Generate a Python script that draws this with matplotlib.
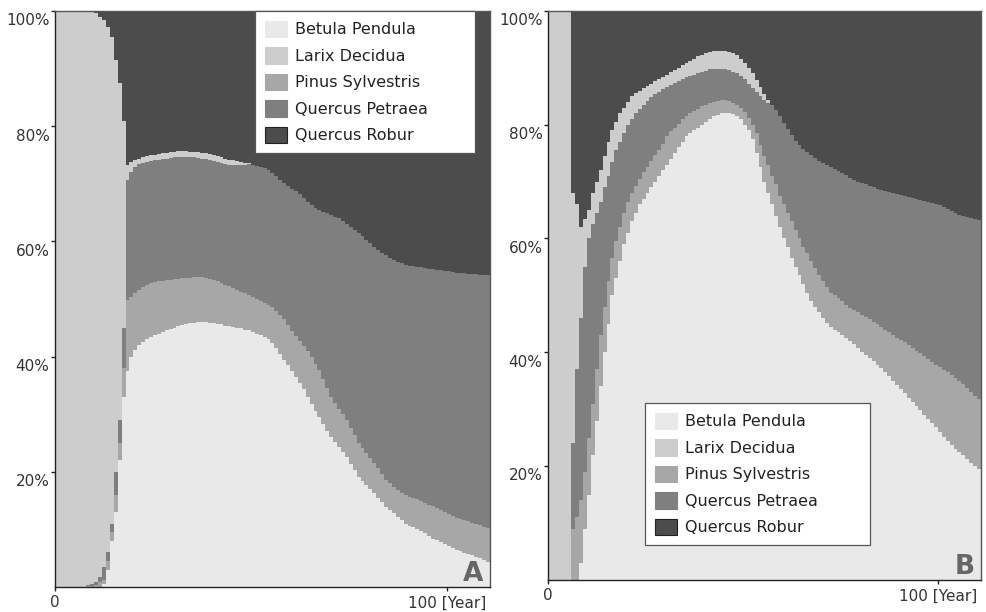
import numpy as np
import matplotlib
matplotlib.use("Agg")
import matplotlib.pyplot as plt
import matplotlib.transforms as mtransforms
from matplotlib.patches import Patch

# ---------------- data (percent) ----------------
years = np.arange(111)

legend_order = ["Betula Pendula", "Larix Decidua", "Pinus Sylvestris",
                "Quercus Petraea", "Quercus Robur"]
stack_order = ["Betula Pendula", "Pinus Sylvestris", "Quercus Petraea",
               "Larix Decidua", "Quercus Robur"]
colors = {"Betula Pendula": "#e9e9e9", "Larix Decidua": "#cdcdcd",
          "Pinus Sylvestris": "#a7a7a7", "Quercus Petraea": "#7f7f7f",
          "Quercus Robur": "#4c4c4c"}

# Panel A: cumulative share (%) at the top of each band (stack order)
a_betula_top = [0, 0, 0, 0, 0, 0, 0, 0, 0, 0, 0, 0, 0.5, 3.0, 8.0, 13.0, 22.0, 33.0,
    37.5, 40.0, 41.1, 42.0, 42.6, 43.0, 43.4, 43.7, 44.0, 44.3, 44.6, 44.8,
    45.0, 45.3, 45.5, 45.7, 45.8, 45.9, 46.0, 46.0, 46.0, 45.9,
    45.8, 45.7, 45.6, 45.4, 45.3, 45.1, 45.0, 44.9, 44.7, 44.6,
    44.3, 44.0, 43.7, 43.4, 43.0, 42.4, 41.5, 40.5, 39.5, 38.5,
    37.5, 36.5, 35.5, 34.3, 33.0, 31.8, 30.6, 29.5, 28.3, 27.1,
    26.0, 25.2, 24.3, 23.5, 22.6, 21.4, 20.3, 19.1, 18.4, 17.7,
    17.0, 16.3, 15.5, 14.7, 13.9, 13.3, 12.8, 12.2, 11.6, 11.0,
    10.6, 10.4, 10.0, 9.7, 9.4, 8.9, 8.4, 8.1, 7.8, 7.5,
    7.1, 6.8, 6.5, 6.2, 5.9, 5.7, 5.5, 5.2, 5.0, 4.7,
    4.3]
a_pinus_top = [0, 0, 0, 0, 0, 0, 0, 0, 0.1, 0.2, 0.4, 0.8, 1.2, 4.5, 9.5, 16.0, 25.0, 38.0,
    49.8, 50.4, 51.0, 51.6, 52.1, 52.5, 52.8, 53.0, 53.1, 53.2, 53.3, 53.4,
    53.5, 53.5, 53.6, 53.7, 53.7, 53.8, 53.8, 53.8, 53.7, 53.5,
    53.3, 53.1, 52.8, 52.5, 52.2, 51.9, 51.6, 51.3, 51.0, 50.7,
    50.3, 50.0, 49.7, 49.3, 49.0, 48.6, 48.0, 47.2, 46.5, 45.5,
    44.5, 43.6, 42.8, 41.9, 41.0, 39.9, 38.8, 37.7, 36.2, 34.6,
    33.0, 32.0, 31.0, 30.0, 29.0, 27.7, 26.4, 25.0, 24.1, 23.2,
    22.4, 21.5, 20.6, 19.6, 18.6, 18.0, 17.4, 16.8, 16.4, 16.0,
    15.7, 15.5, 15.2, 14.9, 14.6, 14.3, 14.0, 13.7, 13.4, 13.0,
    12.6, 12.3, 12.0, 11.8, 11.6, 11.4, 11.2, 11.0, 10.8, 10.5,
    10.2]
a_petraea_top = [0, 0, 0, 0, 0, 0, 0, 0, 0.3, 0.5, 0.9, 1.8, 3.5, 6.0, 11.0, 20.0, 29.0, 45.0,
    70.7, 72.0, 72.9, 73.4, 73.6, 73.8, 74.0, 74.1, 74.2, 74.3, 74.4, 74.5,
    74.6, 74.7, 74.7, 74.7, 74.6, 74.6, 74.5, 74.4, 74.3, 74.2,
    74.0, 73.8, 73.6, 73.4, 73.2, 73.3, 73.3, 73.2, 73.3, 73.4,
    73.3, 73.1, 72.9, 72.7, 72.4, 71.9, 71.4, 70.7, 70.2, 69.6,
    69.2, 68.8, 68.3, 67.5, 66.8, 66.3, 65.8, 65.5, 65.2, 64.9,
    64.6, 64.3, 64.1, 63.6, 63.1, 62.6, 62.0, 61.5, 60.9, 60.3,
    59.7, 59.1, 58.5, 58.0, 57.6, 57.2, 56.8, 56.4, 56.2, 56.0,
    55.8, 55.7, 55.6, 55.5, 55.4, 55.3, 55.2, 55.1, 55.0, 54.9,
    54.8, 54.7, 54.6, 54.5, 54.5, 54.4, 54.3, 54.3, 54.2, 54.2,
    54.2]
a_larix_top = [100, 100, 100, 100, 100, 100, 100, 100, 100,
    99.8, 99.6, 99.0, 98.4, 97.3, 95.5, 91.5, 87.5, 81.0,
    73.3, 73.8, 74.1, 74.4, 74.6, 74.8, 75.0, 75.1, 75.2, 75.3, 75.4, 75.5,
    75.6, 75.7, 75.7, 75.7, 75.6, 75.6, 75.5, 75.4, 75.3, 75.2,
    75.0, 74.8, 74.6, 74.4, 74.2, 74.1, 74.0, 73.8, 73.7, 73.6,
    73.3, 73.1, 72.9, 72.7, 72.4, 71.9, 71.4, 70.7, 70.2, 69.6,
    69.2, 68.8, 68.3, 67.5, 66.8, 66.3, 65.8, 65.5, 65.2, 64.9,
    64.6, 64.3, 64.1, 63.6, 63.1, 62.6, 62.0, 61.5, 60.9, 60.3,
    59.7, 59.1, 58.5, 58.0, 57.6, 57.2, 56.8, 56.4, 56.2, 56.0,
    55.8, 55.7, 55.6, 55.5, 55.4, 55.3, 55.2, 55.1, 55.0, 54.9,
    54.8, 54.7, 54.6, 54.5, 54.5, 54.4, 54.3, 54.3, 54.2, 54.2,
    54.2]

# Panel B
b_betula_top = [0, 0, 0, 0, 0, 0, 0, 0,
    3, 9, 15, 22, 28, 34, 40, 45, 50, 53, 56, 59,
    61, 63, 64.5, 66, 67, 68, 69, 70, 71, 72,
    73, 74, 75, 76, 77, 78, 78.5, 79, 79.5, 80,
    80.5, 81, 81.5, 81.7, 82, 82, 82, 81.8, 81.5, 81,
    80, 79, 77.5, 75, 72.5, 70, 68, 66, 64, 62,
    60, 58.5, 56.5, 55, 53.5, 52, 50.5, 49, 48, 47,
    46, 45.2, 44.5, 44, 43.5, 43, 42.5, 42, 41.5, 40.8,
    40, 39.5, 39, 38.4, 37.8, 37.2, 36.5, 35.8, 35, 34.2,
    33.5, 32.8, 32, 31.3, 30.5, 29.8, 29, 28.3, 27.5, 26.8,
    26, 25.2, 24.5, 23.8, 23, 22.5, 22, 21.2, 20.5, 20,
    19.5]
b_pinus_top = [0, 0, 0, 0, 0, 0,
    9, 11, 14, 19, 25, 31, 37, 43, 48, 52.5, 56.5, 59.5, 62, 64.5,
    66.5, 68, 69.3, 70.5, 71.6, 72.6, 73.6, 74.6, 75.6, 76.6,
    78, 78.8, 79.5, 80.2, 81, 81.5, 82, 82.4, 82.8, 83.2,
    83.5, 83.8, 84, 84.2, 84.3, 84.3, 84.2, 83.8, 83.5, 83,
    82.2, 81.2, 80, 78.5, 76.5, 74.5, 73, 71, 69.5, 67.5,
    66, 64.5, 63, 61.5, 60, 58.5, 57.5, 56, 54.8, 53.5,
    52.5, 51.5, 50.5, 50, 49.5, 49, 48.3, 47.8, 47.5, 47,
    46.5, 46.2, 45.8, 45.4, 45, 44.5, 44, 43.5, 43, 42.6,
    42.2, 41.8, 41.3, 40.8, 40.3, 39.8, 39.3, 38.8, 38.3, 37.8,
    37.4, 36.9, 36.5, 36, 35.5, 35, 34.5, 33.8, 33, 32.4,
    31.8]
b_petraea_top = [0, 0, 0, 0, 0, 0,
    24, 37, 46, 55, 60, 62.5, 64.5, 66.5, 69, 71, 73.5, 75.5, 77, 78.5,
    80, 81, 82, 82.8, 83.5, 84.2, 84.8, 85.3, 85.8, 86.2,
    86.6, 87, 87.4, 87.7, 88, 88.3, 88.6, 88.8, 89, 89.2,
    89.5, 89.7, 89.8, 89.8, 89.8, 89.7, 89.6, 89.3, 89, 88.5,
    88, 87.2, 86.5, 85.8, 85, 84.3, 83.8, 83.5, 82.5, 81.5,
    80.3, 79.3, 78.2, 77.2, 76.4, 75.8, 75.2, 74.6, 74.1, 73.6,
    73.3, 73, 72.6, 72.2, 71.8, 71.5, 71.1, 70.7, 70.3, 70,
    69.7, 69.5, 69.2, 69, 68.7, 68.5, 68.3, 68.1, 68, 67.8,
    67.6, 67.5, 67.3, 67.2, 67, 66.8, 66.6, 66.5, 66.3, 66.1,
    65.8, 65.5, 65.2, 64.8, 64.5, 64.2, 64, 63.8, 63.6, 63.4,
    63.3]
b_larix_top = [100, 100, 100, 100, 100, 100,
    68, 66, 62, 63.5, 65, 68, 70, 72, 74.5, 77, 79, 80.5, 82, 83,
    84, 85, 85.5, 86, 86.5, 86.8, 87.2, 87.6, 88, 88.4,
    88.8, 89.2, 89.6, 90, 90.4, 90.8, 91.2, 91.6, 92, 92.3,
    92.6, 92.8, 92.9, 92.9, 92.9, 92.9, 92.8, 92.6, 92.2, 91.6,
    90.8, 90, 89, 87.8, 86.6, 85.4, 84.3, 83.5, 82.5, 81.5,
    80.3, 79.3, 78.2, 77.2, 76.4, 75.8, 75.2, 74.6, 74.1, 73.6,
    73.3, 73, 72.6, 72.2, 71.8, 71.5, 71.1, 70.7, 70.3, 70,
    69.7, 69.5, 69.2, 69, 68.7, 68.5, 68.3, 68.1, 68, 67.8,
    67.6, 67.5, 67.3, 67.2, 67, 66.8, 66.6, 66.5, 66.3, 66.1,
    65.8, 65.5, 65.2, 64.8, 64.5, 64.2, 64, 63.8, 63.6, 63.4,
    63.3]

y_ticks = [0.2, 0.4, 0.6, 0.8, 1.0]
y_ticklabels = ["20%", "40%", "60%", "80%", "100%"]
x_ticks = [0, 100]
x_ticklabels = ["0", "100 [Year]"]


def shares(tops):
    n = len(years)
    cum = np.vstack([np.zeros(n)] + [np.asarray(t, float) for t in tops]
                    + [np.full(n, 100.0)])
    return np.clip(np.diff(cum, axis=0), 0, None) / 100.0


def panel(fig, rect, tops, letter, leg_box):
    ax = fig.add_axes(rect)
    sh = shares(tops)
    xs = np.append(years, years[-1] + 1)
    ys = [np.append(s, s[-1]) for s in sh]
    ax.stackplot(xs, *ys, colors=[colors[s] for s in stack_order],
                 step="post", linewidth=0, antialiased=False)
    ax.set_xlim(0, 111)
    ax.set_ylim(0, 1)
    ax.set_yticks(y_ticks)
    ax.set_yticklabels(y_ticklabels)
    ax.set_xticks(x_ticks)
    ax.set_xticklabels(x_ticklabels)
    ax.tick_params(axis="both", length=3, width=1, color="#222",
                   labelsize=11, labelcolor="#333", pad=3)
    ax.tick_params(axis="y", pad=1)
    shift = mtransforms.ScaledTranslation(0, -6 / 72.0, fig.dpi_scale_trans)
    for lab in ax.get_yticklabels():
        lab.set_transform(lab.get_transform() + shift)
    for side, sp in ax.spines.items():
        sp.set_color("#222" if side in ("left", "bottom") else "#555")
        sp.set_linewidth(1.0)
    ax.text(0.985, 0.0, letter, transform=ax.transAxes, ha="right",
            va="bottom", fontsize=19, fontweight="bold", color="#666")
    handles = [Patch(facecolor=colors[s],
                     edgecolor="#222" if s == "Quercus Robur" else colors[s],
                     linewidth=0.8) for s in legend_order]
    loc = "upper left" if letter == "A" else "lower left"
    leg = ax.legend(handles, legend_order, loc=loc, bbox_to_anchor=leg_box,
                    mode="expand", fontsize=11.5, frameon=True,
                    fancybox=False, framealpha=1, edgecolor="#555",
                    handlelength=1.4, handleheight=1.2, labelspacing=0.62,
                    borderpad=0.6, handletextpad=0.5, borderaxespad=0)
    leg.get_frame().set_linewidth(0.9)
    for t in leg.get_texts():
        t.set_color("#222")
    return ax


fig = plt.figure(figsize=(9.86, 6.12), dpi=100)
panel(fig, [0.0558, 0.0408, 0.441, 0.941],
      [a_betula_top, a_pinus_top, a_petraea_top, a_larix_top], "A",
      (0.46, 0.0, 0.506, 1.0))
panel(fig, [0.5558, 0.0523, 0.439, 0.930],
      [b_betula_top, b_pinus_top, b_petraea_top, b_larix_top], "B",
      (0.224, 0.0615, 0.52, 0.5))
fig.savefig("out.png", dpi=100)
